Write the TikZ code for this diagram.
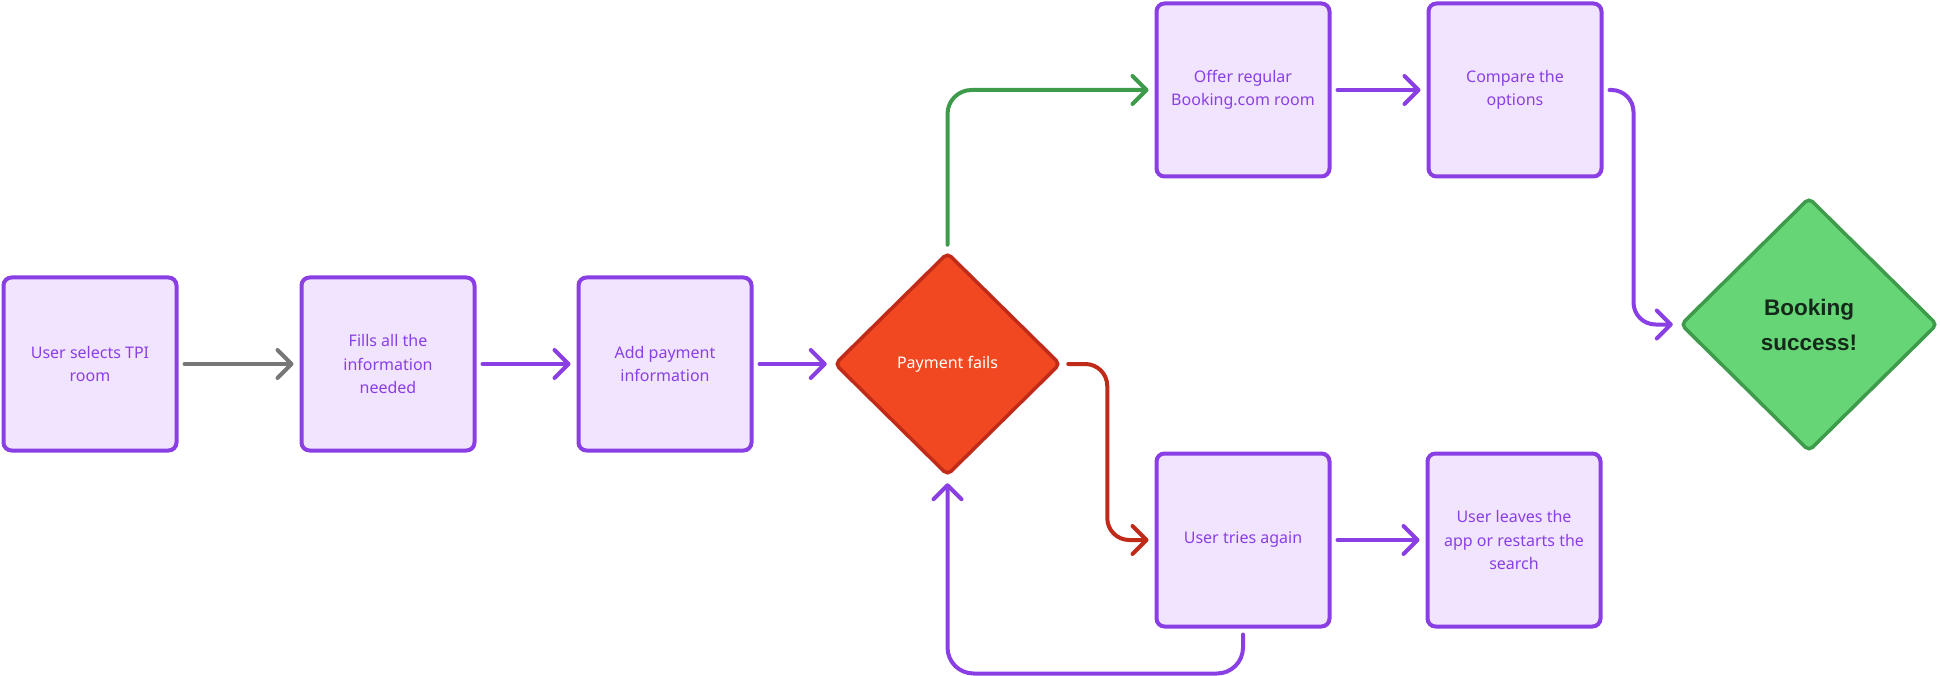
\documentclass[tikz,border=0pt]{standalone}
\usepackage{fontspec}
\setmainfont{Noto Sans}
\newfontfamily\boldsans{Liberation Sans}
\usetikzlibrary{shapes.geometric,arrows.meta,calc}
\definecolor{vio}{HTML}{8A3FE5}
\definecolor{viofill}{HTML}{F1E4FF}
\definecolor{grayar}{HTML}{777777}
\definecolor{grn}{HTML}{3E9B4B}
\definecolor{grnfill}{HTML}{66D575}
\definecolor{redst}{HTML}{C02A18}
\definecolor{redfill}{HTML}{F24822}
\definecolor{darktext}{HTML}{15291A}
\begin{document}
\begin{tikzpicture}[x=1pt,y=-1pt,
  stepbox/.style={draw=vio,fill=viofill,line width=4pt,rounded corners=8pt,
    minimum width=173pt,minimum height=173pt,inner sep=0pt,
    text=vio,align=center,font=\fontsize{16}{23.5}\selectfont},
  faildia/.style={diamond,draw=redst,fill=redfill,line width=3.5pt,rounded corners=5pt,
    minimum width=226pt,minimum height=223pt,inner sep=0pt,text=white,
    font=\fontsize{16}{23.5}\selectfont},
  okdia/.style={diamond,draw=grn,fill=grnfill,line width=3.5pt,rounded corners=5pt,
    minimum width=257pt,minimum height=254pt,inner sep=0pt,text=darktext,align=center,
    font=\boldsans\bfseries\fontsize{22.5}{35}\selectfont},
  conn/.style={line width=4pt,line cap=round,line join=round,
    -{Straight Barb[length=14pt,width=28pt,line cap=round,line join=round]},
    shorten <=6pt,shorten >=6pt},
]
\useasboundingbox (0,0) rectangle (1940,676);

\node[stepbox] (b1) at (90,364) {User selects TPI\\room};
\node[stepbox] (b2) at (388,364) {Fills all the\\information\\needed};
\node[stepbox] (b3) at (665,364) {Add payment\\information};
\node[faildia] (pay) at (947.5,364) {Payment fails};
\node[stepbox] (offer) at (1243,90) {Offer regular\\Booking.com room};
\node[stepbox] (comp) at (1515,90) {Compare the\\options};
\node[stepbox] (tries) at (1243,540) {User tries again};
\node[stepbox] (leave) at (1514,540) {User leaves the\\app or restarts the\\search};
\node[okdia] (book) at (1809,324.5) {Booking\\success!};

\draw[conn,draw=grayar] (b1.east) -- (b2.west);
\draw[conn,draw=vio] (b2.east) -- (b3.west);
\draw[conn,draw=vio] (b3.east) -- (pay.west);
\draw[conn,draw=grn,rounded corners=24pt] (pay.north) |- (offer.west);
\draw[conn,draw=vio] (offer.east) -- (comp.west);
\coordinate (cc) at ([xshift=30pt]comp.east);
\draw[conn,draw=vio,rounded corners=22pt] (comp.east) -- (cc) |- (book.west);
\coordinate (rc) at ([xshift=45pt]pay.east);
\draw[conn,draw=redst,rounded corners=22pt] (pay.east) -- (rc) |- (tries.west);
\draw[conn,draw=vio] (tries.east) -- (leave.west);
\coordinate (lc) at ([yshift=-45pt]tries.south);
\draw[conn,draw=vio,rounded corners=26pt] (tries.south) -- (lc) -| (pay.south);
\end{tikzpicture}
\end{document}
